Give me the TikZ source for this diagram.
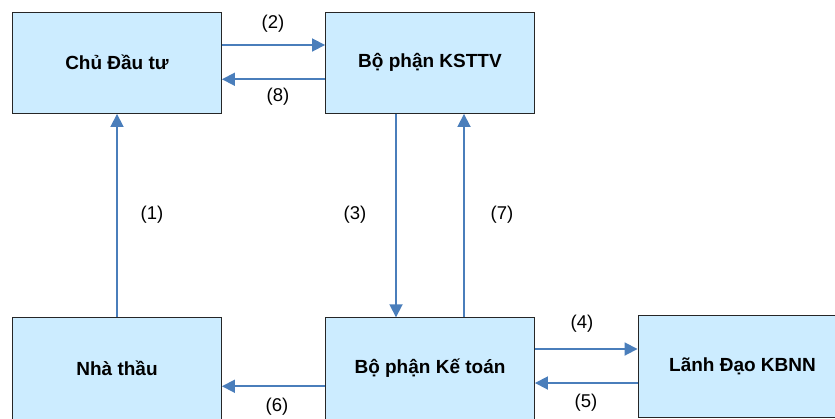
\documentclass[tikz,border=0pt]{standalone}
\usepackage{fontspec}
\setmainfont{Liberation Sans}
\usetikzlibrary{arrows.meta}
\definecolor{boxfill}{HTML}{CCECFF}
\definecolor{arrblue}{HTML}{4A7EBB}
\definecolor{boxline}{HTML}{262626}
\begin{document}
\begin{tikzpicture}[x=1pt,y=-1pt,
  box/.style={draw=boxline, line width=0.9pt, fill=boxfill, minimum width=209pt, minimum height=101.5pt,
    inner sep=0pt, font=\fontsize{19}{22}\selectfont\bfseries, text=black},
  arr/.style={draw=arrblue, line width=1.8pt, -{Triangle[length=13pt,width=13pt]}},
  lbl/.style={font=\fontsize{18.5}{22}\selectfont, text=black, inner sep=0pt}]
\useasboundingbox (0,0) rectangle (835,418);
\clip (0,0) rectangle (835,418);
\fill[white] (0,0) rectangle (835,418);
\node[box] (cdt) at (117,62.75) {Chủ Đầu tư};
\node[box] (ks) at (430,62.75) {Bộ phận KSTTV};
\node[box] (nt) at (117,368.25) {Nhà thầu};
\node[box] (kt) at (430,368.5) {Bộ phận Kế toán};
\node[box] (ld) at (742.5,366.5) {Lãnh Đạo KBNN};
% connectors
\draw[arr] ([yshift=17.75pt]cdt.east) -- ([yshift=17.75pt]ks.west);
\draw[arr] ([yshift=-16.5pt]ks.west) -- ([yshift=-16.5pt]cdt.east);
\draw[arr] (nt.north) -- (cdt.south);
\draw[arr] ([xshift=-34pt]ks.south) -- ([xshift=-34pt]kt.north);
\draw[arr] ([xshift=34pt]kt.north) -- ([xshift=34pt]ks.south);
\draw[arr] ([yshift=19.5pt]kt.east) -- ([yshift=19.5pt]kt.east -| ld.west);
\draw[arr] ([yshift=-14.5pt]kt.east -| ld.west) -- ([yshift=-14.5pt]kt.east);
\draw[arr] ([yshift=-17.75pt]kt.west) -- ([yshift=-17.75pt]kt.west -| nt.east);
% labels
\node[lbl] (l2) at (273,24) {(2)};
\node[lbl] (l8) at (278,97) {(8)};
\node[lbl] (l1) at (152,215) {(1)};
\node[lbl] (l3) at (355,215) {(3)};
\node[lbl] (l7) at (502,215) {(7)};
\node[lbl] (l4) at (582,324) {(4)};
\node[lbl] (l5) at (586,403) {(5)};
\node[lbl] (l6) at (277,407) {(6)};
\end{tikzpicture}
\end{document}
